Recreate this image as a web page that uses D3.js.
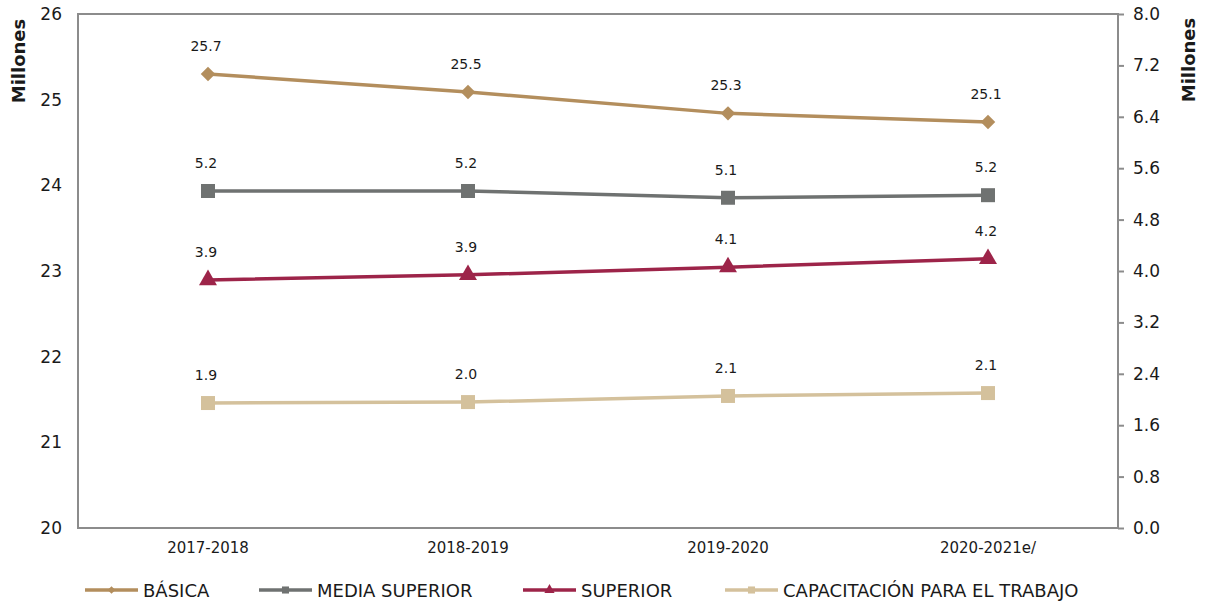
<!DOCTYPE html>
<html><head><meta charset="utf-8">
<script src="https://cdn.jsdelivr.net/npm/d3@7"></script>
<style>body{margin:0;background:#fff}svg{display:block}text{font-family:"DejaVu Sans",sans-serif;fill:#1a1a1a}</style>
</head><body><svg id="c" width="1206" height="602"></svg>
<script>
const categories = ["2017-2018","2018-2019","2019-2020","2020-2021e/"];
const basica = [25.30,25.09,24.84,24.74];          // plotted on left axis
const basicaLabels = ["25.7","25.5","25.3","25.1"];
const mediaSuperior = [5.245,5.245,5.14,5.18];     // right axis
const mediaLabels = ["5.2","5.2","5.1","5.2"];
const superior = [3.86,3.94,4.06,4.19];
const superiorLabels = ["3.9","3.9","4.1","4.2"];
const capacitacion = [1.945,1.96,2.055,2.10];
const capacitacionLabels = ["1.9","2.0","2.1","2.1"];
const leftTicks = [20,21,22,23,24,25,26];
const rightTicks = [0,0.8,1.6,2.4,3.2,4.0,4.8,5.6,6.4,7.2,8.0];

const svg = d3.select("#c");
const L=78,R=1118,T=14,B=528;
const x = d3.scaleBand().domain(categories).range([L,R]);
const yL = d3.scaleLinear().domain([20,26]).range([B,T]);
const yR = d3.scaleLinear().domain([0,8]).range([B,T]);
const axisColor="#8c8c8c";

svg.append("rect").attr("x",L).attr("y",T).attr("width",R-L).attr("height",B-T)
  .attr("fill","none").attr("stroke",axisColor).attr("stroke-width",2);

const gl = svg.append("g").attr("transform",`translate(${L},0)`)
  .call(d3.axisLeft(yL).tickValues(leftTicks).tickSize(0).tickPadding(16).tickFormat(d3.format("d")));
gl.select(".domain").remove();
gl.selectAll("text").attr("font-size",17);

const gr = svg.append("g").attr("transform",`translate(${R},0)`)
  .call(d3.axisRight(yR).tickValues(rightTicks).tickSize(6).tickPadding(9).tickFormat(d3.format(".1f")));
gr.select(".domain").remove();
gr.selectAll("line").attr("stroke",axisColor).attr("stroke-width",2);
gr.selectAll("text").attr("font-size",17);

const gx = svg.append("g").attr("transform",`translate(0,${B})`)
  .call(d3.axisBottom(x).tickSize(0).tickPadding(14));
gx.select(".domain").remove();
gx.selectAll("text").attr("font-size",15);

svg.append("text").attr("transform","translate(25,61) rotate(-90)").attr("text-anchor","middle")
  .attr("font-size",18).attr("font-weight","bold").text("Millones");
svg.append("text").attr("transform","translate(1195,60) rotate(-90)").attr("text-anchor","middle")
  .attr("font-size",18).attr("font-weight","bold").text("Millones");

const series = [
  {name:"BÁSICA",vals:basica,labels:basicaLabels,y:yL,color:"#B38E5D",sym:d3.symbolSquare,rot:45,size:105,lx:85,lsize:30},
  {name:"MEDIA SUPERIOR",vals:mediaSuperior,labels:mediaLabels,y:yR,color:"#6F7271",sym:d3.symbolSquare,rot:0,size:196,lx:259,lsize:50},
  {name:"SUPERIOR",vals:superior,labels:superiorLabels,y:yR,color:"#9D2449",sym:d3.symbolTriangle,rot:0,size:140,lx:523,lsize:45},
  {name:"CAPACITACIÓN PARA EL TRABAJO",vals:capacitacion,labels:capacitacionLabels,y:yR,color:"#D4C19C",sym:d3.symbolSquare,rot:0,size:196,lx:725,lsize:50}
];
const cx = c => x(c)+x.bandwidth()/2;
series.forEach(s=>{
  const pts = categories.map((c,i)=>[cx(c),s.y(s.vals[i])]);
  svg.append("path").attr("d",d3.line()(pts)).attr("fill","none").attr("stroke",s.color).attr("stroke-width",3.5);
  pts.forEach((p,i)=>{
    svg.append("path").attr("d",d3.symbol(s.sym,s.size)()).attr("transform",`translate(${p[0]},${p[1]}) rotate(${s.rot})`).attr("fill",s.color);
    svg.append("text").attr("x",p[0]-2).attr("y",p[1]-23).attr("text-anchor","middle").attr("font-size",14).text(s.labels[i]);
  });
  const ly=590, lw=53;
  svg.append("line").attr("x1",s.lx).attr("x2",s.lx+lw).attr("y1",ly).attr("y2",ly).attr("stroke",s.color).attr("stroke-width",3.5);
  svg.append("path").attr("d",d3.symbol(s.sym,s.lsize)()).attr("transform",`translate(${s.lx+lw/2},${ly}) rotate(${s.rot})`).attr("fill",s.color);
  svg.append("text").attr("x",s.lx+lw+5).attr("y",ly+6.5).attr("font-size",18).text(s.name);
});
</script></body></html>
